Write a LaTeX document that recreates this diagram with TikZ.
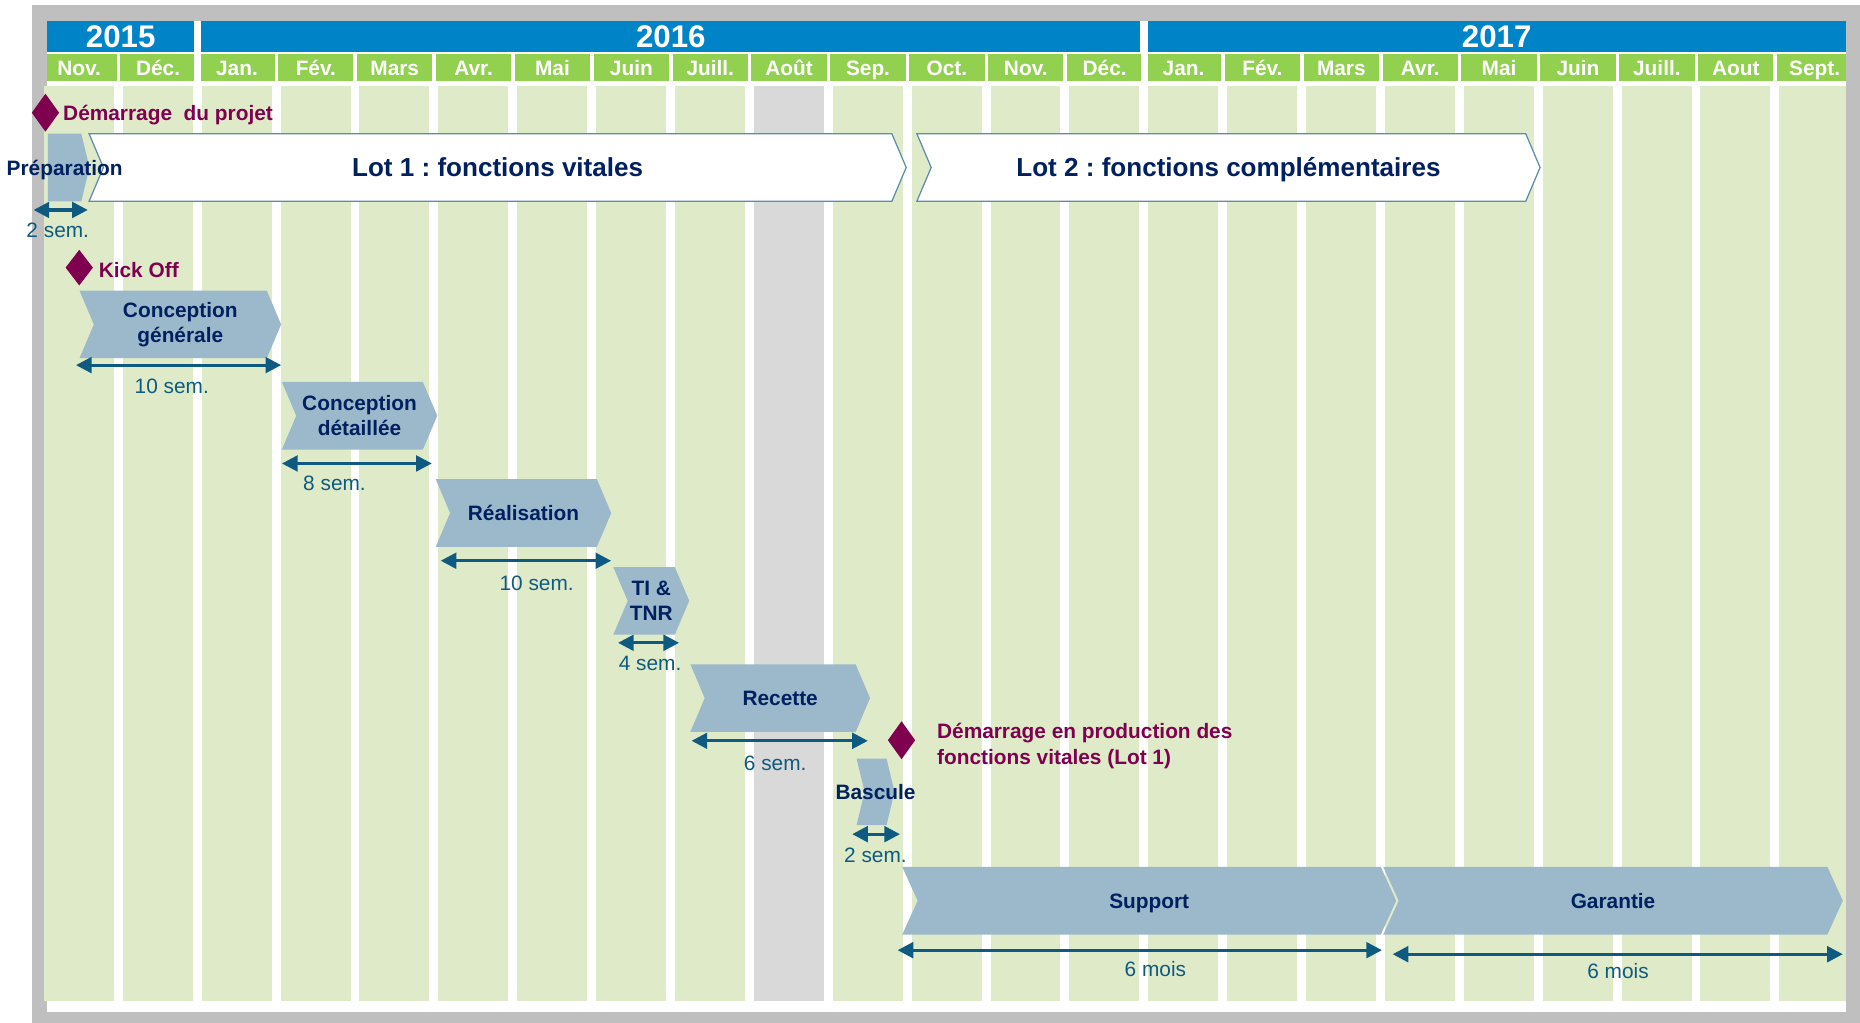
\documentclass[tikz,border=0pt]{standalone}
\usepackage{fontspec}
\setmainfont{Liberation Sans}
\usepackage{tikz}
\usetikzlibrary{arrows.meta,positioning,shapes.geometric,shapes.symbols}
\definecolor{yearblue}{RGB}{0,132,200}
\definecolor{monthgreen}{RGB}{146,208,80}
\definecolor{colgreen}{RGB}{223,235,200}
\definecolor{colgray}{RGB}{217,217,217}
\definecolor{framegray}{RGB}{191,191,191}
\definecolor{taskblue}{RGB}{155,185,203}
\definecolor{lotline}{RGB}{95,140,172}
\definecolor{navy}{RGB}{0,32,96}
\definecolor{plum}{RGB}{128,0,80}
\definecolor{dimblue}{RGB}{15,90,128}
\frenchspacing

\begin{document}
\begin{tikzpicture}[
  x=0.02cm, y=-0.02cm,
  every node/.style={font=\fontsize{10}{12.2}\selectfont\bfseries, align=center, inner sep=0pt, outer sep=0pt},
  year/.style={fill=yearblue, text=white, font=\fontsize{15}{18}\selectfont\bfseries, minimum height=0.536cm},
  month/.style={text=white, text height=7.2pt, text depth=0pt},
  oneline/.style={text height=7.2pt, text depth=0pt},
  task/.style={signal, signal from=west, signal to=east, signal pointer angle=134, fill=taskblue, text=navy, minimum height=1.14cm},
  lot/.style={task, fill=white, draw=lotline, line width=0.6pt, font=\fontsize{12.5}{15}\selectfont\bfseries, text height=9pt, text depth=0pt},
  milestone/.style={diamond, fill=plum, minimum width=0.46cm, minimum height=0.64cm},
  mstext/.style={text=plum, align=left},
  durarrow/.style={{Triangle[length=7.5pt,width=7.5pt]}-{Triangle[length=7.5pt,width=7.5pt]}, line width=1.5pt, dimblue},
  durtext/.style={font=\fontsize{10}{12}\selectfont, text=dimblue}
]
\useasboundingbox (0,0) rectangle (1568,862);
% cadre et colonnes des mois
\fill[framegray] (27,4) rectangle (1568,862);
\fill[white] (40,17.4) rectangle (1556,853);
\foreach \i in {0,...,22}
  \fill[colgreen] ({37+66.5*\i},72.5) rectangle ({min(96+66.5*\i,1556)},844);
\fill[colgray] (635.5,72.5) rectangle (694.5,844);

% annees
\node[year, minimum width=2.47cm] (y2015) at (101.75,30.8) {2015};
\node[year, minimum width=15.84cm] (y2016) at (565.5,30.8) {2016};
\node[year, minimum width=11.77cm] (y2017) at (1261.75,30.8) {2017};

% mois
\fill[monthgreen] (40,45.5) rectangle (163.5,68);
\fill[monthgreen] (169.5,45.5) rectangle (961.5,68);
\fill[monthgreen] (967.5,45.5) rectangle (1556,68);
\foreach \i in {1,...,22}
  \fill[white] ({32+66.5*\i},45) rectangle ({35+66.5*\i},68.5);
\foreach \m [count=\i from 0] in {Nov.,Déc.,Jan.,Fév.,Mars,Avr.,Mai,Juin,Juill.,Août,Sep.,Oct.,Nov.,Déc.,Jan.,Fév.,Mars,Avr.,Mai,Juin,Juill.,Aout,Sept.}
  \node[month] (m\i) at ({66.75+66.5*\i},57) {\m};

% lots
\node[lot, minimum width=13.78cm] (lot1) at (419.5,141.2) {Lot 1 : fonctions vitales};
\node[lot, minimum width=10.51cm] (lot2) at (1035.6,141.2) {Lot 2 : fonctions complémentaires};

% phases
\node[task, signal from=nowhere, signal pointer angle=153, minimum width=0.70cm,
      label={[text=navy, oneline]center:Préparation}] (prep) at (54.5,141.2) {};
\node[task, minimum width=3.40cm] (cg) at (152,273.5) {Conception\\générale};
\node[task, minimum width=2.62cm] (cd) at (303.1,350.5) {Conception\\détaillée};
\node[task, minimum width=2.96cm, oneline] (real) at (441.3,432.5) {Réalisation};
\node[task, minimum width=1.28cm] (ti) at (549,506.5) {TI \&\\TNR};
\node[task, minimum width=3.03cm, oneline] (rec) at (657.7,588.5) {Recette};
\node[task, signal pointer angle=153, minimum width=0.64cm, minimum height=1.12cm,
      label={[text=navy, oneline]center:Bascule}] (bas) at (738.1,667.5) {};
\node[task, signal pointer angle=131, minimum width=8.33cm, oneline] (sup) at (968.8,759.3) {Support};
\node[task, signal pointer angle=131, minimum width=7.75cm, oneline] (gar) at (1359.8,759.3) {Garantie};

% jalons
\node[milestone] (start) at (38.3,95) {};
\node[mstext, right=0.07cm of start, yshift=-0.04cm] (starttxt) {Démarrage~ du projet};
\node[milestone, minimum height=0.6cm] (kick) at (66.8,225.6) {};
\node[mstext, right=0.1cm of kick, yshift=-0.04cm] (kicktxt) {Kick Off};
\node[milestone] (golive) at (760,624) {};
\node[mstext, right=0.37cm of golive, yshift=-0.1cm] (golivetxt) {Démarrage en production des\\fonctions vitales (Lot 1)};

% durees
\coordinate (prep-l) at (28.3,177);    \coordinate (prep-r) at (74,177);
\coordinate (cg-l) at (64,307.8);      \coordinate (cg-r) at (237,307.8);
\coordinate (cd-l) at (237.7,390.7);   \coordinate (cd-r) at (364,390.7);
\coordinate (real-l) at (371.5,472.7); \coordinate (real-r) at (515.2,472.7);
\coordinate (ti-l) at (521,541.9);     \coordinate (ti-r) at (572.5,541.9);
\coordinate (rec-l) at (583,624.5);    \coordinate (rec-r) at (731.6,624.5);
\coordinate (bas-l) at (718.4,703.2);  \coordinate (bas-r) at (758.7,703.2);
\coordinate (sup-l) at (756.7,801);    \coordinate (sup-r) at (1165,801);
\coordinate (gar-l) at (1174,804.4);   \coordinate (gar-r) at (1553.5,804.4);
\foreach \t in {prep,cg,cd,real,ti,rec,bas,sup,gar}
  \draw[durarrow] (\t-l) -- (\t-r);

\node[durtext] (prep-d) at (48.7,194) {2 sem.};
\node[durtext] (cg-d) at (144.8,325.5) {10 sem.};
\node[durtext] (cd-d) at (282,407.5) {8 sem.};
\node[durtext] (real-d) at (452.4,491.8) {10 sem.};
\node[durtext] (ti-d) at (548,559.3) {4 sem.};
\node[durtext] (rec-d) at (653.5,643.6) {6 sem.};
\node[durtext] (bas-d) at (738,721) {2 sem.};
\node[durtext] (sup-d) at (974,817) {6 mois};
\node[durtext] (gar-d) at (1364,819) {6 mois};
\end{tikzpicture}
\end{document}
